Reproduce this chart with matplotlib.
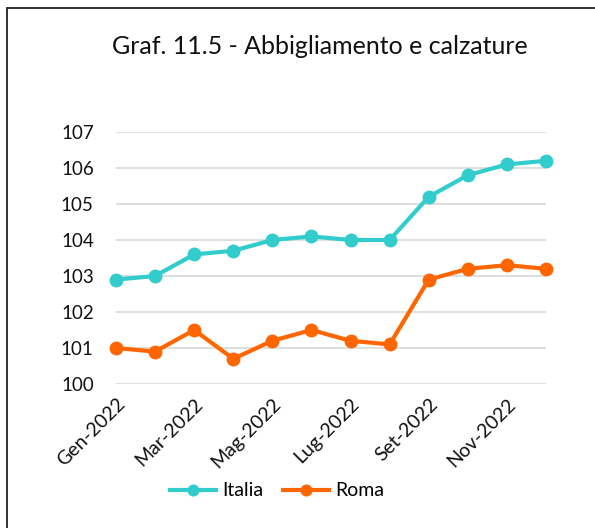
import matplotlib.pyplot as plt
from matplotlib.patches import Rectangle

plt.rcParams['font.family'] = ['Lato', 'DejaVu Sans']

mesi = ['Gen-2022', 'Feb-2022', 'Mar-2022', 'Apr-2022', 'Mag-2022', 'Giu-2022',
        'Lug-2022', 'Ago-2022', 'Set-2022', 'Ott-2022', 'Nov-2022', 'Dic-2022']
italia = [102.9, 103.0, 103.6, 103.7, 104.0, 104.1, 104.0, 104.0, 105.2, 105.8, 106.1, 106.2]
roma = [101.0, 100.9, 101.5, 100.7, 101.2, 101.5, 101.2, 101.1, 102.9, 103.2, 103.3, 103.2]
yticks = [100, 101, 102, 103, 104, 105, 106, 107]

W, H = 595, 528
fig = plt.figure(figsize=(W / 100, H / 100), dpi=100)
ax = fig.add_axes([116 / W, 1 - 384 / H, (546 - 116) / W, (384 - 132) / H])

x = list(range(len(mesi)))
ax.plot(x, italia, color='#33CCCC', lw=3, marker='o', ms=9, label='Italia', clip_on=False)
ax.plot(x, roma, color='#FF6600', lw=3, marker='o', ms=9, label='Roma', clip_on=False)

ax.set_xlim(0, 11)
ax.set_ylim(100, 107)
ax.set_yticks(yticks)
ax.set_yticklabels([str(v) for v in yticks], fontsize=13.5, color='#111111')
ax.set_xticks(x[::2])
ax.set_xticklabels(mesi[::2], rotation=45, ha='right', rotation_mode='anchor',
                   fontsize=14, color='#111111')
ax.tick_params(axis='y', length=0, pad=16)
ax.tick_params(axis='x', length=0, pad=8)
ax.grid(axis='y', color='#D9D9D9', lw=1.2)
ax.set_axisbelow(True)
for s in ax.spines.values():
    s.set_visible(False)

fig.text(320 / W, 1 - 47 / H, 'Graf. 11.5 - Abbigliamento e calzature',
         ha='center', va='center', fontsize=18, color='#111111')

fig.legend(loc='center', bbox_to_anchor=(277 / W, 1 - 491 / H), ncol=2, frameon=False,
           fontsize=14, handlelength=2.4, columnspacing=1.0, handletextpad=0.3,
           markerscale=0.85)

# cornice del grafico
fig.patches.append(Rectangle((7 / W, -0.1), 1.2, 1 - 8 / H + 0.1, transform=fig.transFigure,
                             fill=False, ec='#222222', lw=1.3))

fig.savefig('out.png', dpi=100)
